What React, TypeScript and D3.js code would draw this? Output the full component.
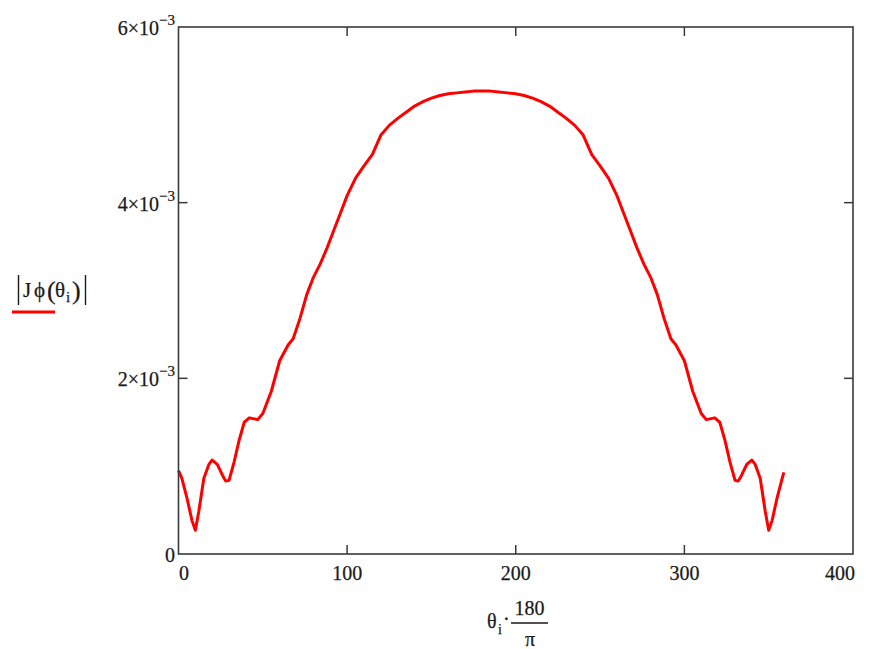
import React from 'react';
import * as d3 from 'd3';

// angle in degrees (θi·180/π) and |Jϕ(θi)| in units of 1e-3
const thetaDeg = [
  0, 2, 5, 8, 10, 12, 15, 18, 20, 23, 26, 28, 30, 33, 36, 39, 42, 47, 50, 55,
  60, 65, 68, 72, 76, 80, 84, 88, 92, 96, 100, 105, 110, 115, 120, 125, 130, 135, 140, 145,
  150, 155, 160, 165, 170, 175, 180, 185, 190, 195, 200, 205, 210, 215, 220, 225, 230, 235,
  240, 245, 250, 255, 260, 264, 268, 272, 276, 280, 284, 288, 292, 295, 300, 305, 310, 313,
  318, 321, 324, 327, 330, 332, 334, 337, 340, 342, 345, 348, 350, 352, 355, 358, 359,
];
const jphiMilli = [
  0.95, 0.86, 0.64, 0.38, 0.27, 0.48, 0.86, 1.02, 1.07, 1.02, 0.9, 0.83, 0.84, 1.05, 1.3, 1.5, 1.55, 1.53, 1.6, 1.85,
  2.2, 2.38, 2.45, 2.68, 2.95, 3.15, 3.3, 3.48, 3.68, 3.88, 4.08, 4.28, 4.42, 4.55, 4.77, 4.88, 4.96, 5.03, 5.1, 5.15,
  5.19, 5.22, 5.24, 5.25, 5.26, 5.27, 5.27, 5.27, 5.26, 5.25, 5.24, 5.22, 5.19, 5.15, 5.1, 5.03, 4.96, 4.88,
  4.77, 4.55, 4.42, 4.28, 4.08, 3.88, 3.68, 3.48, 3.3, 3.15, 2.95, 2.68, 2.45, 2.38, 2.2, 1.85, 1.6, 1.53,
  1.55, 1.5, 1.3, 1.05, 0.84, 0.83, 0.9, 1.02, 1.07, 1.02, 0.86, 0.48, 0.27, 0.38, 0.64, 0.86, 0.93,
];
const xTicks = [0, 100, 200, 300, 400];
const yTicks = [0, 2, 4, 6]; // ×10^-3

const W = 875;
const H = 649;
const left = 178.5;
const right = 853;
const top = 27;
const bottom = 554;
const font = '"Liberation Serif", "Times New Roman", serif';
const textColor = '#1a1a1a';
const frameColor = '#3a3a3a';

export default function App() {
  const x = d3.scaleLinear().domain([0, 400]).range([left, right]);
  const y = d3.scaleLinear().domain([0, 6]).range([bottom, top]);

  const points: [number, number][] = thetaDeg.map((t, i) => [t, jphiMilli[i]]);
  const line = d3.line<[number, number]>()
    .x(d => x(d[0]))
    .y(d => y(d[1]));

  const tickLen = 9;

  return (
    <svg
      width={W}
      height={H}
      style={{ position: 'absolute', left: 0, top: 0, background: '#fff' }}
      fontFamily={font}
    >
      {/* curve */}
      <path d={line(points) ?? ''} fill="none" stroke="#ff0000" strokeWidth={3} strokeLinejoin="round" />

      {/* frame */}
      <rect x={left} y={top} width={right - left} height={bottom - top} fill="none" stroke={frameColor} strokeWidth={1.6} />

      {/* inner ticks, all four sides */}
      {xTicks.slice(1, -1).map(t => (
        <g key={'xt' + t}>
          <line x1={x(t)} x2={x(t)} y1={bottom} y2={bottom - tickLen} stroke={frameColor} strokeWidth={1.5} />
          <line x1={x(t)} x2={x(t)} y1={top} y2={top + tickLen} stroke={frameColor} strokeWidth={1.5} />
        </g>
      ))}
      {yTicks.slice(1, -1).map(t => (
        <g key={'yt' + t}>
          <line x1={left} x2={left + tickLen} y1={y(t)} y2={y(t)} stroke={frameColor} strokeWidth={1.5} />
          <line x1={right} x2={right - tickLen} y1={y(t)} y2={y(t)} stroke={frameColor} strokeWidth={1.5} />
        </g>
      ))}

      <g fill={textColor} stroke={textColor} strokeWidth={0.25}>
        {/* x tick labels */}
        {xTicks.map((t, i) => (
          <text
            key={'xl' + t}
            x={i === 0 ? x(t) + 0.5 : i === xTicks.length - 1 ? x(t) + 2 : x(t)}
            y={580}
            fontSize={20}
            textAnchor={i === 0 ? 'start' : i === xTicks.length - 1 ? 'end' : 'middle'}
          >
            {t}
          </text>
        ))}

        {/* y tick labels */}
        {yTicks.map(t => (
          <text key={'yl' + t} x={175} y={y(t) + 8} fontSize={20} textAnchor="end">
            {t === 0 ? '0' : (
              <>
                {t}×10
                <tspan dy={-10} fontSize={15}>−3</tspan>
              </>
            )}
          </text>
        ))}

        {/* y axis label |Jϕ(θi)| */}
        <g fontSize={21}>
          <text x={23} y={297}>J</text>
          <text x={34} y={297}>ϕ</text>
          <text x={47} y={299} fontSize={26}>(</text>
          <text x={55} y={297}>θ</text>
          <text x={66} y={302} fontSize={15}>i</text>
          <text x={72} y={299} fontSize={26}>)</text>
        </g>

        {/* x axis label θi·180/π */}
        <g fontSize={20}>
          <text x={487} y={628}>θ</text>
          <text x={498} y={634} fontSize={14}>i</text>
          <text x={503} y={626}>·</text>
          <text x={529.5} y={615} textAnchor="middle">180</text>
          <text x={530} y={646} textAnchor="middle">π</text>
        </g>
      </g>
      <line x1={18.5} x2={18.5} y1={275} y2={305} stroke={textColor} strokeWidth={1.4} />
      <line x1={85.5} x2={85.5} y1={275} y2={305} stroke={textColor} strokeWidth={1.4} />
      <line x1={511} x2={548} y1={623} y2={623} stroke={textColor} strokeWidth={1.3} />
      <line x1={12} x2={55} y1={312} y2={312} stroke="#ff0000" strokeWidth={2.8} />
    </svg>
  );
}
